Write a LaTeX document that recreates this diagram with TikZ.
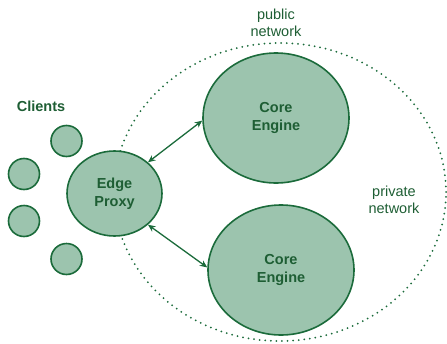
\documentclass[tikz,border=0pt]{standalone}
\usepackage{fontspec}
\setmainfont{Liberation Sans}
\usetikzlibrary{shapes.geometric,arrows.meta}
\definecolor{gfill}{HTML}{9CC4AE}
\definecolor{gline}{HTML}{1B6B3B}
\definecolor{gtext}{HTML}{1E5E34}
\tikzset{
  blob/.style={ellipse,draw=gline,fill=gfill,line width=1.6pt,inner sep=0pt,
    text=gtext,font=\fontsize{14.5}{17.5}\selectfont\bfseries,align=center},
  client/.style={circle,draw=gline,fill=gfill,line width=1.6pt,inner sep=0pt,minimum size=31pt},
  lbl/.style={text=gtext,font=\fontsize{14.5}{17.5}\selectfont,align=center},
  link/.style={gline,line width=1.3pt,{Stealth[length=7.5pt,width=6.5pt]}-{Stealth[length=7.5pt,width=6.5pt]}},
  netline/.style={draw=gline,line width=2pt,dash pattern=on 0pt off 5.6pt,line cap=round}
}
\begin{document}
\begin{tikzpicture}[x=1pt,y=-1pt]
\useasboundingbox (0,0) rectangle (447,343);
\node[netline,ellipse,minimum width=332pt,minimum height=298pt,inner sep=0pt] (net) at (280,192) {};
\node[blob,minimum width=146pt,minimum height=130pt] (ce1) at (276,118) {Core\\Engine};
\node[blob,minimum width=146pt,minimum height=130pt] (ce2) at (281,270) {Core\\Engine};
\node[blob,minimum width=95pt,minimum height=85pt] (ep) at (114.5,193.5) {Edge\\Proxy};
\node[client] (c1) at (66.5,141) {};
\node[client] (c2) at (24,174) {};
\node[client] (c3) at (24,221) {};
\node[client] (c4) at (66.5,259) {};
\node[lbl,font=\fontsize{14.5}{17.5}\selectfont\bfseries] (cl) at (41,106) {Clients};
\node[lbl] (pub) at (276,23) {public\\network};
\node[lbl] (priv) at (394,200) {private\\network};
\draw[link] (ep.43) -- (ce1.182);
\draw[link] (ep.-43) -- (ce2.178);
\end{tikzpicture}
\end{document}
